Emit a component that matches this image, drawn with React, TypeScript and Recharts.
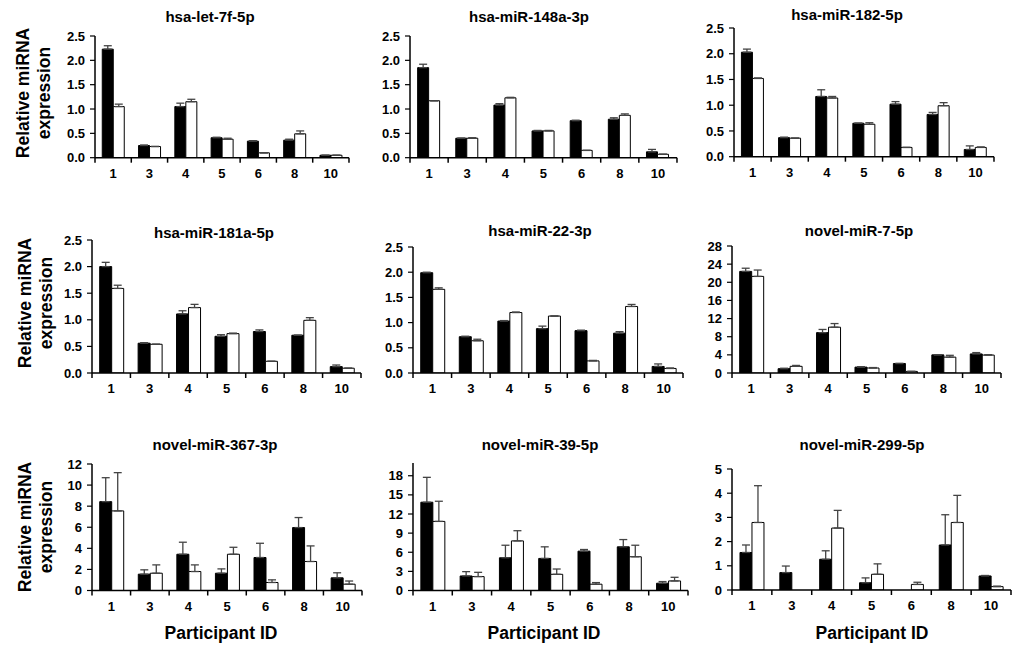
import React from 'react';
import { BarChart, Bar, XAxis, YAxis, ErrorBar } from 'recharts';

// ---------- data ----------
const participants = ['1', '3', '4', '5', '6', '8', '10'];

const titles = [
  'hsa-let-7f-5p', 'hsa-miR-148a-3p', 'hsa-miR-182-5p',
  'hsa-miR-181a-5p', 'hsa-miR-22-3p', 'novel-miR-7-5p',
  'novel-miR-367-3p', 'novel-miR-39-5p', 'novel-miR-299-5p',
];

const let7fBlack = [2.23, 0.25, 1.05, 0.41, 0.34, 0.36, 0.05];
const let7fBlackErr = [0.07, 0.01, 0.07, 0.01, 0.01, 0.02, 0.0];
const let7fWhite = [1.05, 0.23, 1.15, 0.38, 0.1, 0.49, 0.05];
const let7fWhiteErr = [0.05, 0.0, 0.05, 0.02, 0.0, 0.06, 0.0];

const m148Black = [1.85, 0.4, 1.08, 0.55, 0.76, 0.79, 0.12];
const m148BlackErr = [0.07, 0.0, 0.03, 0.01, 0.01, 0.03, 0.05];
const m148White = [1.17, 0.4, 1.23, 0.55, 0.15, 0.87, 0.07];
const m148WhiteErr = [0.0, 0.01, 0.01, 0.01, 0.0, 0.03, 0.0];

const m182Black = [2.03, 0.37, 1.17, 0.65, 1.02, 0.82, 0.14];
const m182BlackErr = [0.06, 0.01, 0.13, 0.0, 0.05, 0.04, 0.07];
const m182White = [1.52, 0.36, 1.14, 0.63, 0.18, 0.99, 0.18];
const m182WhiteErr = [0.01, 0.0, 0.03, 0.03, 0.0, 0.06, 0.01];

const m181Black = [2.0, 0.56, 1.11, 0.69, 0.78, 0.71, 0.12];
const m181BlackErr = [0.08, 0.01, 0.06, 0.03, 0.03, 0.0, 0.03];
const m181White = [1.59, 0.54, 1.23, 0.74, 0.22, 0.99, 0.09];
const m181WhiteErr = [0.06, 0.0, 0.06, 0.01, 0.0, 0.05, 0.0];

const m22Black = [1.99, 0.72, 1.03, 0.88, 0.84, 0.79, 0.13];
const m22BlackErr = [0.01, 0.01, 0.01, 0.05, 0.01, 0.03, 0.05];
const m22White = [1.66, 0.64, 1.2, 1.13, 0.24, 1.32, 0.09];
const m22WhiteErr = [0.03, 0.03, 0.01, 0.0, 0.01, 0.04, 0.01];

const n7Black = [22.4, 0.95, 8.9, 1.3, 2.1, 4.0, 4.2];
const n7BlackErr = [0.7, 0.1, 0.7, 0.1, 0.0, 0.0, 0.3];
const n7White = [21.3, 1.47, 10.1, 1.1, 0.35, 3.5, 3.95];
const n7WhiteErr = [1.4, 0.2, 0.8, 0.1, 0.0, 0.4, 0.1];

const n367Black = [8.43, 1.55, 3.44, 1.64, 3.13, 5.97, 1.2];
const n367BlackErr = [2.27, 0.41, 1.14, 0.41, 1.35, 0.95, 0.48];
const n367White = [7.55, 1.64, 1.8, 3.44, 0.76, 2.75, 0.6];
const n367WhiteErr = [3.63, 0.79, 0.63, 0.66, 0.25, 1.48, 0.3];

const n39Black = [13.85, 2.28, 5.13, 5.03, 6.17, 6.85, 1.14];
const n39BlackErr = [3.9, 0.68, 1.97, 1.82, 0.26, 1.14, 0.26];
const n39White = [10.84, 2.18, 7.78, 2.54, 0.99, 5.29, 1.5];
const n39WhiteErr = [3.16, 0.67, 1.6, 0.83, 0.25, 1.81, 0.57];

const n299Black = [1.55, 0.72, 1.27, 0.3, 0.0, 1.86, 0.58];
const n299BlackErr = [0.31, 0.27, 0.35, 0.2, 0.0, 1.25, 0.02];
const n299White = [2.79, 0.0, 2.56, 0.65, 0.23, 2.79, 0.14];
const n299WhiteErr = [1.52, 0.0, 0.73, 0.43, 0.09, 1.12, 0.02];

const ticks25 = [0, 0.5, 1.0, 1.5, 2.0, 2.5];
const ticks28 = [0, 4, 8, 12, 16, 20, 24, 28];
const ticks12 = [0, 2, 4, 6, 8, 10, 12];
const ticks18 = [0, 3, 6, 9, 12, 15, 18];
const ticks5 = [0, 1, 2, 3, 4, 5];

const yAxisLabel = ['Relative miRNA', 'expression'];
const xAxisLabel = 'Participant ID';

// ---------- layout ----------
const FONT = "'Liberation Sans', Arial, Helvetica, sans-serif";

type Panel = {
  title: string;
  black: number[]; blackErr: number[]; white: number[]; whiteErr: number[];
  max: number; ticks: number[]; decimals: number;
  x0: number; x1: number; y0: number; y1: number;
  tx: number; ty: number;
};

const mk = (
  i: number, b: number[], be: number[], w: number[], we: number[],
  max: number, ticks: number[], decimals: number,
  x0: number, x1: number, y0: number, y1: number, tx: number, ty: number,
): Panel => ({ title: titles[i], black: b, blackErr: be, white: w, whiteErr: we, max, ticks, decimals, x0, x1, y0, y1, tx, ty });

const panels: Panel[] = [
  mk(0, let7fBlack, let7fBlackErr, let7fWhite, let7fWhiteErr, 2.5, ticks25, 1, 95, 349, 36, 157.7, 210, 16),
  mk(1, m148Black, m148BlackErr, m148White, m148WhiteErr, 2.5, ticks25, 1, 410, 677, 36, 157.7, 529, 16),
  mk(2, m182Black, m182BlackErr, m182White, m182WhiteErr, 2.5, ticks25, 1, 734, 994, 28, 156.7, 847, 14),
  mk(3, m181Black, m181BlackErr, m181White, m181WhiteErr, 2.5, ticks25, 1, 92, 361, 240, 373, 214, 232),
  mk(4, m22Black, m22BlackErr, m22White, m22WhiteErr, 2.5, ticks25, 1, 413, 683, 247, 373, 540, 230),
  mk(5, n7Black, n7BlackErr, n7White, n7WhiteErr, 28, ticks28, 0, 732, 1001, 246, 373, 859, 230),
  mk(6, n367Black, n367BlackErr, n367White, n367WhiteErr, 12, ticks12, 0, 92, 362, 464, 590.5, 215, 444),
  mk(7, n39Black, n39BlackErr, n39White, n39WhiteErr, 20, ticks18, 0, 413, 688, 463, 590.5, 540, 444),
  mk(8, n299Black, n299BlackErr, n299White, n299WhiteErr, 5, ticks5, 0, 732, 1011, 469, 590, 862, 444),
];

const LEFT = 70, RIGHT = 10, TOP = 10, BOTTOM = 30;

const makeXTick = (band: number, n: number) => (props: any) => {
  const { x, y, payload, index } = props;
  return (
    <g>
      <line x1={x - band / 2} x2={x - band / 2} y1={y} y2={y + 5} stroke="#000" strokeWidth={1.5} />
      {index === n - 1 && (
        <line x1={x + band / 2} x2={x + band / 2} y1={y} y2={y + 5} stroke="#000" strokeWidth={1.5} />
      )}
      <text x={x} y={y + 20} textAnchor="middle" fontFamily={FONT} fontWeight="bold" fontSize={13} fill="#000">
        {payload.value}
      </text>
    </g>
  );
};

function PanelChart({ p }: { p: Panel }) {
  const data = participants.map((id, k) => ({
    id,
    black: p.black[k],
    blackErr: [0, p.blackErr[k]],
    white: p.white[k],
    whiteErr: [0, p.whiteErr[k]],
  }));
  const plotW = p.x1 - p.x0;
  const plotH = p.y1 - p.y0;
  const width = plotW + LEFT + RIGHT;
  const height = plotH + TOP + BOTTOM;
  const band = plotW / participants.length;
  return (
    <div style={{ position: 'absolute', left: p.x0 - LEFT, top: p.y0 - TOP, width, height }}>
      <BarChart
        width={width}
        height={height}
        data={data}
        margin={{ top: TOP, right: RIGHT, bottom: 0, left: 0 }}
        barCategoryGap="20%"
        barGap={0}
      >
        <XAxis
          dataKey="id"
          height={BOTTOM}
          interval={0}
          tickSize={0}
          tickMargin={0}
          tickLine={false}
          axisLine={{ stroke: '#000', strokeWidth: 1.5 }}
          tick={makeXTick(band, participants.length)}
        />
        <YAxis
          width={LEFT}
          domain={[0, p.max]}
          ticks={p.ticks}
          interval={0}
          allowDataOverflow
          tickSize={5}
          tickMargin={5}
          axisLine={{ stroke: '#000', strokeWidth: 1.5 }}
          tickLine={{ stroke: '#000', strokeWidth: 1.2 }}
          tickFormatter={(v: number) => v.toFixed(p.decimals)}
          tick={{ fontFamily: FONT, fontWeight: 'bold', fontSize: 13, fill: '#000' }}
        />
        <Bar dataKey="black" fill="#000" stroke="#000" strokeWidth={1} isAnimationActive={false}>
          <ErrorBar dataKey="blackErr" width={4} stroke="#444" strokeWidth={1.3} direction="y" isAnimationActive={false} />
        </Bar>
        <Bar dataKey="white" fill="#fff" stroke="#000" strokeWidth={1} isAnimationActive={false}>
          <ErrorBar dataKey="whiteErr" width={4} stroke="#444" strokeWidth={1.3} direction="y" isAnimationActive={false} />
        </Bar>
      </BarChart>
    </div>
  );
}

const rowLabelY = [93, 303, 527];
const colLabelX = [221, 544, 872];

export default function App() {
  return (
    <div style={{ position: 'absolute', left: 0, top: 0, width: 1024, height: 650, background: '#fff', fontFamily: FONT }}>
      {panels.map((p, i) => (
        <PanelChart key={i} p={p} />
      ))}
      <svg width={1024} height={650} style={{ position: 'absolute', left: 0, top: 0, pointerEvents: 'none' }}>
        {panels.map((p, i) => (
          <text key={'t' + i} x={p.tx} y={p.ty} textAnchor="middle" dominantBaseline="central"
            fontFamily={FONT} fontWeight="bold" fontSize={15} fill="#000">
            {p.title}
          </text>
        ))}
        {rowLabelY.map((cy, r) => (
          <g key={'yl' + r}>
            <text transform={`translate(${23 + (r > 0 ? 2 : 0)},${cy}) rotate(-90)`} textAnchor="middle" dominantBaseline="central"
              fontFamily={FONT} fontWeight="bold" fontSize={17.5} fill="#000">{yAxisLabel[0]}</text>
            <text transform={`translate(${44 + (r > 0 ? 2 : 0)},${cy}) rotate(-90)`} textAnchor="middle" dominantBaseline="central"
              fontFamily={FONT} fontWeight="bold" fontSize={17.5} fill="#000">{yAxisLabel[1]}</text>
          </g>
        ))}
        {colLabelX.map((cx, c) => (
          <text key={'xl' + c} x={cx} y={633} textAnchor="middle" dominantBaseline="central"
            fontFamily={FONT} fontWeight="bold" fontSize={17.5} fill="#000">{xAxisLabel}</text>
        ))}
      </svg>
    </div>
  );
}
